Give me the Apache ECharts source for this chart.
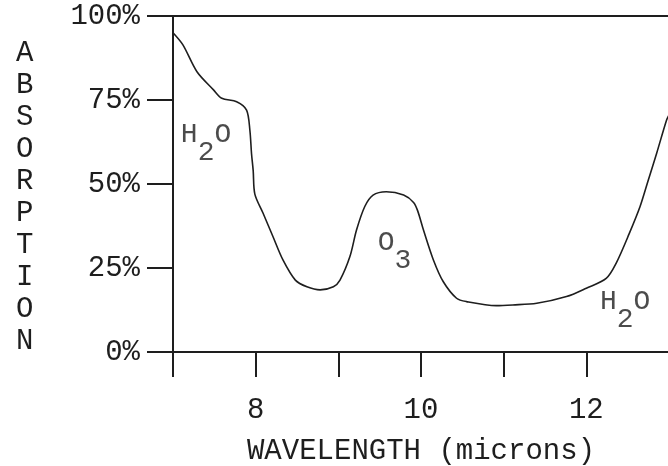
<!DOCTYPE html>
<html>
<head>
<meta charset="utf-8">
<script src="https://cdn.jsdelivr.net/npm/echarts@6/dist/echarts.min.js"></script>
<style>
  html, body { margin: 0; padding: 0; background: #fff; }
  #chart { width: 668px; height: 466px; }
</style>
</head>
<body>
<div id="chart"></div>
<script>
// absorption curve
var wavelength = [7.0, 7.12, 7.29, 7.49, 7.59, 7.77, 7.89, 7.93, 7.95, 7.97, 7.99, 8.09, 8.21, 8.33, 8.48,
    8.62, 8.78, 8.94, 9.02, 9.14, 9.22, 9.32, 9.42, 9.58, 9.79, 9.91, 9.96, 10.03, 10.15, 10.27,
    10.43, 10.55, 10.91, 11.11, 11.4, 11.76, 12.0, 12.24, 12.36, 12.52, 12.65, 12.75, 12.85, 12.97, 13.0]
var absorption = [95, 91.4, 83.4, 78, 75.5, 74.5, 72, 66, 59, 54, 47, 41.3, 34.3, 27.4, 21.4,
    19.4, 18.5, 19.4, 21.4, 28.4, 36.3, 43.3, 46.7, 47.7, 46.7, 44.5, 42, 36.3, 27.4, 20.9,
    16, 15, 13.8, 14, 14.5, 16.5, 19, 21.9, 26.4, 35.3, 43.3, 51.2, 59.1, 69, 70.5]

var yTicks = [0, 25, 50, 75, 100]
var xLabelled = [8, 10, 12]

// gas labels
var gasMain = ['H', 'O', 'H']
var gasSub = ['2', '3', '2']
var gasTail = ['O', '', 'O']
var gasX = [7.40, 9.68, 12.47]
var gasY = [62, 30, 12.2]

var font = 'Liberation Mono'
var ink = '#1e1e1e'

var curve = []
for (var i = 0; i < wavelength.length; i++) {
    curve.push([wavelength[i], absorption[i]])
}
var gas = []
for (var j = 0; j < gasX.length; j++) {
    gas.push({ value: [gasX[j], gasY[j]], main: gasMain[j], sub: gasSub[j], tail: gasTail[j] })
}

var chart = echarts.init(document.getElementById('chart'))
chart.setOption({
    animation: false,
    title: {
        text: 'A\nB\nS\nO\nR\nP\nT\nI\nO\nN',
        left: 11,
        top: 32,
        textStyle: { fontFamily: font, fontSize: 29, fontWeight: 'normal', color: ink, lineHeight: 32 }
    },
    grid: { left: 173, right: -1, top: 16, bottom: 114, containLabel: false, outerBoundsMode: 'none' },
    xAxis: [{
        type: 'value',
        min: 7,
        max: 13,
        interval: 1,
        name: 'WAVELENGTH (microns)',
        nameLocation: 'middle',
        nameGap: 85,
        nameTextStyle: { fontFamily: font, fontSize: 29, color: ink },
        axisLine: { lineStyle: { color: ink, width: 2 } },
        axisTick: { length: 25, lineStyle: { color: ink, width: 2 } },
        axisLabel: {
            margin: 44,
            fontFamily: font,
            fontSize: 29,
            color: ink,
            formatter: function (v) { return xLabelled.indexOf(v) >= 0 ? String(v) : '' }
        },
        splitLine: { show: false }
    }, {
        type: 'value',
        position: 'top',
        min: 7,
        max: 13,
        axisLine: { show: true, lineStyle: { color: ink, width: 2 } },
        axisTick: { show: false },
        axisLabel: { show: false },
        splitLine: { show: false }
    }],
    yAxis: {
        type: 'value',
        min: yTicks[0],
        max: yTicks[yTicks.length - 1],
        interval: 25,
        axisLine: { show: true, lineStyle: { color: ink, width: 2 } },
        axisTick: { show: true, length: 26, lineStyle: { color: ink, width: 2 } },
        axisLabel: { margin: 33, fontFamily: font, fontSize: 29, color: ink, formatter: '{value}%' },
        splitLine: { show: false }
    },
    series: [{
        type: 'line',
        data: curve,
        symbol: 'none',
        smooth: 0.3,
        lineStyle: { color: ink, width: 1.6 }
    }, {
        type: 'scatter',
        data: gas,
        symbolSize: 0,
        label: {
            show: true,
            position: 'inside',
            formatter: function (p) {
                return '{m|' + p.data.main + '}{s|' + p.data.sub + '}' + (p.data.tail ? '{m|' + p.data.tail + '}' : '')
            },
            rich: {
                m: { fontFamily: font, fontSize: 28, color: ink, lineHeight: 22, padding: [0, 0, 18, 0] },
                s: { fontFamily: font, fontSize: 28, color: ink, lineHeight: 22, padding: [18, 0, 0, 0] }
            }
        }
    }]
})
</script>
</body>
</html>
